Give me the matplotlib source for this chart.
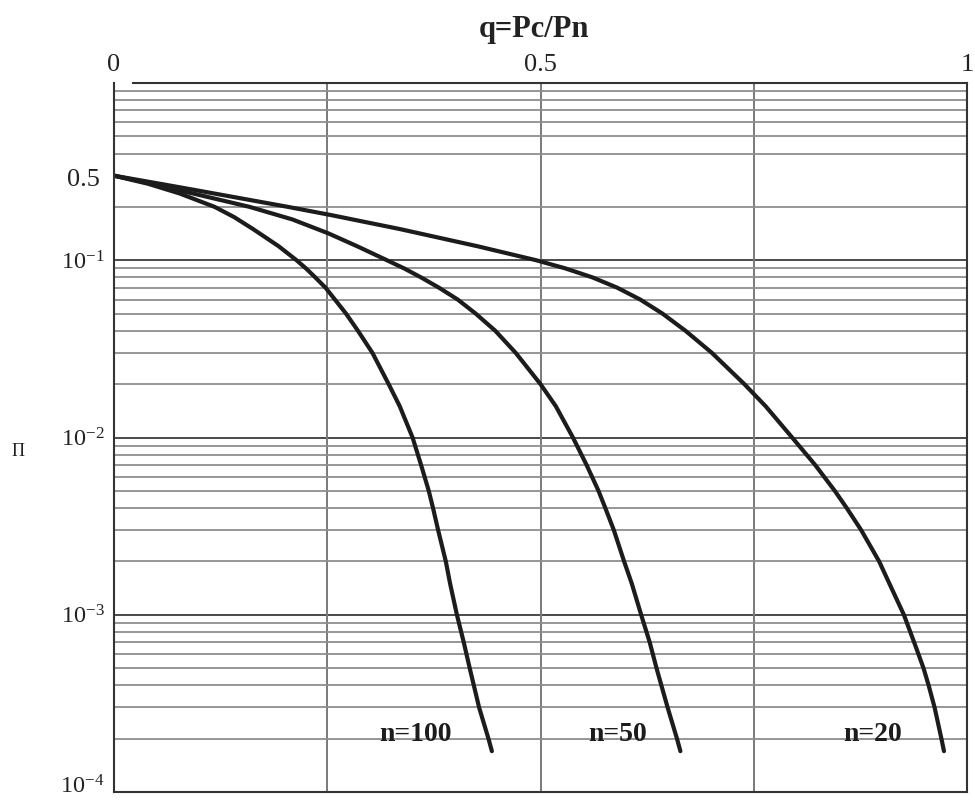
import numpy as np
import matplotlib
matplotlib.use("Agg")
import matplotlib.pyplot as plt
from matplotlib.ticker import LogLocator, FixedLocator, NullFormatter
from matplotlib.transforms import ScaledTranslation

plt.rcParams['font.family'] = ['Liberation Serif', 'DejaVu Serif']
plt.rcParams['mathtext.fontset'] = 'custom'
plt.rcParams['mathtext.rm'] = 'Liberation Serif'
plt.rcParams['mathtext.it'] = 'Liberation Serif:italic'
plt.rcParams['mathtext.bf'] = 'Liberation Serif:bold'

# ---- data (q, value) ----
q_n20 = [0.0, 0.054, 0.093, 0.204, 0.254, 0.335, 0.426, 0.495, 0.529, 0.561, 0.590,
         0.617, 0.643, 0.670, 0.701, 0.739, 0.764, 0.795, 0.822, 0.845, 0.859, 0.876,
         0.897, 0.909, 0.926, 0.938, 0.949, 0.955, 0.962, 0.970, 0.973]
p_n20 = [0.3, 0.27, 0.25, 0.2, 0.18, 0.15, 0.12, 0.1, 0.09, 0.08, 0.07,
         0.06, 0.05, 0.04, 0.03, 0.02, 0.015, 0.01, 0.007, 0.005, 0.004, 0.003,
         0.002, 0.0015, 0.001, 0.0007, 0.0005, 0.0004, 0.0003, 0.0002, 0.00017]

q_n50 = [0.0, 0.045, 0.077, 0.159, 0.209, 0.251, 0.285, 0.320, 0.340, 0.360, 0.381,
         0.403, 0.424, 0.447, 0.471, 0.500, 0.518, 0.538, 0.554, 0.568, 0.576, 0.586,
         0.598, 0.607, 0.618, 0.628, 0.636, 0.649, 0.660, 0.664]
p_n50 = [0.3, 0.27, 0.248, 0.2, 0.17, 0.142, 0.12, 0.1, 0.09, 0.08, 0.07,
         0.06, 0.05, 0.04, 0.03, 0.02, 0.015, 0.01, 0.007, 0.005, 0.004, 0.003,
         0.002, 0.0015, 0.001, 0.0007, 0.0005, 0.0003, 0.0002, 0.00017]

q_n100 = [0.0, 0.040, 0.077, 0.118, 0.141, 0.163, 0.193, 0.214, 0.225, 0.236, 0.248,
          0.259, 0.272, 0.286, 0.303, 0.322, 0.335, 0.350, 0.360, 0.369, 0.374, 0.380,
          0.389, 0.394, 0.402, 0.410, 0.417, 0.428, 0.439, 0.443]
p_n100 = [0.3, 0.27, 0.238, 0.2, 0.175, 0.15, 0.12, 0.1, 0.09, 0.08, 0.07,
          0.06, 0.05, 0.04, 0.03, 0.02, 0.015, 0.01, 0.007, 0.005, 0.004, 0.003,
          0.002, 0.0015, 0.001, 0.0007, 0.0005, 0.0003, 0.0002, 0.00017]

curve_labels = ["n=100", "n=50", "n=20"]
label_q = [0.354, 0.590, 0.889]
label_p = 2.1e-4

x_ticks = [0, 0.5, 1]
x_ticklabels = ["0", "0.5", "1"]
y_ticks = [1e-4, 1e-3, 1e-2, 1e-1, 0.3]
y_ticklabels = [r"$10^{-4}$", r"$10^{-3}$", r"$10^{-2}$", r"$10^{-1}$", "0.5"]
decades = [1e-3, 1e-2, 1e-1]
x_grid = [0.25, 0.5, 0.75]

# ---- figure ----
fig = plt.figure(figsize=(9.75, 8.0), dpi=100)
ax = fig.add_axes([114 / 975, 8 / 800, 853 / 975, 709 / 800])
ax.set_yscale('log')
ax.set_xlim(0, 1)
ax.set_ylim(1e-4, 1)

# grid
ax.yaxis.set_minor_locator(LogLocator(base=10, subs=np.arange(2, 10), numticks=20))
ax.yaxis.set_minor_formatter(NullFormatter())
ax.grid(False)
ax.grid(True, which='minor', axis='y', color='#8e8e8e', lw=1.3, zorder=1)
for d in decades:
    ax.axhline(d, color='#3c3c3c', lw=1.3, zorder=1.1)
for xv in x_grid:
    ax.axvline(xv, color='#7a7a7a', lw=1.4, zorder=1.2)

# curves
for qs, ps in [(q_n100, p_n100), (q_n50, p_n50), (q_n20, p_n20)]:
    ax.plot(qs, ps, color='#1c1c1c', lw=3.0, solid_capstyle='round',
            solid_joinstyle='round', zorder=3)

for lab, lq in zip(curve_labels, label_q):
    ax.text(lq, label_p, lab, ha='center', va='center', fontsize=20,
            fontweight='bold', color='#1c1c1c', zorder=4)

# ticks
ax.xaxis.tick_top()
ax.set_xticks(x_ticks, x_ticklabels)
ax.xaxis.set_minor_locator(FixedLocator([]))
ax.set_yticks(y_ticks, y_ticklabels)
ax.tick_params(axis='x', which='both', length=0, pad=5, labelsize=19, colors='#222222')
ax.tick_params(axis='y', which='both', length=0, pad=7, labelsize=17.5, colors='#222222')

ylabels = ax.get_yticklabels()
# "0.5" label: a bit larger and further left, as in the reference
ylabels[4].set_fontsize(19)
ylabels[4].set_transform(ylabels[4].get_transform() +
                         ScaledTranslation(-4 / 100, -2 / 100, fig.dpi_scale_trans))
# bottom label lifted so it stays inside the figure
ylabels[0].set_transform(ylabels[0].get_transform() +
                         ScaledTranslation(0, 8 / 100, fig.dpi_scale_trans))

for s in ax.spines.values():
    s.set_color('#333333')
    s.set_linewidth(1.5)
    s.set_zorder(5)
ax.spines['top'].set_bounds(0.022, 1)

fig.text(534 / 975, 1 - 37 / 800, "q=Pc/Pn", ha='center', va='baseline',
         fontsize=22, fontweight='bold', color='#222222')
fig.text(18 / 975, 1 - 451 / 800, "\u03a0", ha='center', va='center',
         fontsize=13, color='#222222')

fig.savefig("out.png", dpi=100, facecolor='white')
